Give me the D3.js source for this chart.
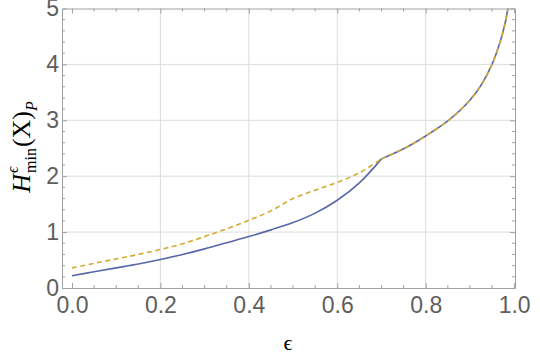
<!DOCTYPE html>
<html>
<head>
<meta charset="utf-8">
<script src="https://cdn.jsdelivr.net/npm/d3@7"></script>
<style>
  body { margin: 0; background: #fff; }
  svg { display: block; }
</style>
</head>
<body>
<svg id="chart" width="540" height="357"></svg>
<script>
'use strict';

// values
let epsLow = [0, 0.05, 0.1, 0.15, 0.2, 0.25, 0.3, 0.35, 0.4, 0.45, 0.5, 0.55, 0.6, 0.65, 0.7];
let hSolidLow = [0.22, 0.29, 0.36, 0.43, 0.51, 0.6, 0.7, 0.81, 0.92, 1.04, 1.17, 1.34, 1.57, 1.88, 2.31];
let hDashedLow = [0.36, 0.44, 0.52, 0.6, 0.69, 0.79, 0.92, 1.06, 1.21, 1.38, 1.6, 1.75, 1.89, 2.06, 2.31];

let epsHigh = [0.7, 0.75, 0.8, 0.85, 0.9, 0.927, 0.95, 0.969, 0.98, 0.986, 0.99];
let hHigh = [2.31, 2.49, 2.72, 2.99, 3.36, 3.65, 4.0, 4.42, 4.75, 5.0, 5.2];

let xTicks = [0, 0.2, 0.4, 0.6, 0.8, 1.0];
let yTicks = [0, 1, 2, 3, 4, 5];

function getChartConfig() {
    let margin = { top: 8.5, right: 25, bottom: 69, left: 62 },
        width = 540 - margin.left - margin.right,
        height = 357 - margin.top - margin.bottom;
    let svg = d3.select("#chart");
    let container = svg.append("g")
        .attr("transform", "translate(" + margin.left + "," + margin.top + ")");
    return { width, height, container, margin, svg };
}

function getScales(config) {
    let { width, height } = config;
    let xScale = d3.scaleLinear().domain([-0.0226, 1.002]).range([0, width]);
    let yScale = d3.scaleLinear().domain([0, 5]).range([height, 0]);
    return { xScale, yScale };
}

function drawGrid(config, scales) {
    let { container, width, height } = config;
    let { xScale, yScale } = scales;

    xTicks.slice(1, -1).forEach(t => {
        container.append("line")
            .style("stroke", "#dcdcdc")
            .attr("x1", xScale(t)).attr("x2", xScale(t))
            .attr("y1", 0).attr("y2", height);
    });
    yTicks.slice(1, -1).forEach(t => {
        container.append("line")
            .style("stroke", "#dcdcdc")
            .attr("x1", 0).attr("x2", width)
            .attr("y1", yScale(t)).attr("y2", yScale(t));
    });
}

function drawAxes(config, scales) {
    let { container, width, height } = config;
    let { xScale, yScale } = scales;

    let xMinor = d3.range(0, 1.0001, 0.05).filter(d => Math.abs(d * 5 - Math.round(d * 5)) > 1e-6);
    let yMinor = d3.range(0, 5.0001, 0.2).filter(d => Math.abs(d - Math.round(d)) > 1e-6);

    let bottom = d3.axisBottom(xScale).tickValues(xTicks).tickSizeInner(-5).tickSizeOuter(0)
        .tickFormat(d3.format(".1f"));
    let top = d3.axisTop(xScale).tickValues(xTicks).tickSizeInner(-5).tickSizeOuter(0).tickFormat("");
    let left = d3.axisLeft(yScale).tickValues(yTicks).tickSizeInner(-5).tickSizeOuter(0)
        .tickPadding(3).tickFormat(d3.format("d"));
    let right = d3.axisRight(yScale).tickValues(yTicks).tickSizeInner(-5).tickSizeOuter(0).tickFormat("");

    let gx = container.append("g").attr("class", "x axis")
        .attr("transform", "translate(0," + height + ")").call(bottom);
    gx.selectAll(".tick text").attr("y", 25).attr("dy", 0);
    container.append("g").attr("class", "x axis").call(top);
    container.append("g").attr("class", "y axis").call(left);
    container.append("g").attr("class", "y axis")
        .attr("transform", "translate(" + width + ",0)").call(right);

    // minor ticks
    xMinor.forEach(t => {
        container.append("line").attr("class", "minor")
            .attr("x1", xScale(t)).attr("x2", xScale(t))
            .attr("y1", height).attr("y2", height - 3);
        container.append("line").attr("class", "minor")
            .attr("x1", xScale(t)).attr("x2", xScale(t))
            .attr("y1", 0).attr("y2", 3);
    });
    yMinor.forEach(t => {
        container.append("line").attr("class", "minor")
            .attr("x1", 0).attr("x2", 3)
            .attr("y1", yScale(t)).attr("y2", yScale(t));
        container.append("line").attr("class", "minor")
            .attr("x1", width).attr("x2", width - 3)
            .attr("y1", yScale(t)).attr("y2", yScale(t));
    });

    container.selectAll(".axis path.domain").style("stroke", "#a0a0a0");
    container.selectAll(".axis .tick line").style("stroke", "#a0a0a0");
    container.selectAll("line.minor").style("stroke", "#a0a0a0");
    container.selectAll(".axis .tick text")
        .style("font-family", "Liberation Sans, Arial, sans-serif")
        .style("font-size", "23px")
        .style("fill", "#5e5e5e");
}

function drawLines(config, scales) {
    let { container, width, height } = config;
    let { xScale, yScale } = scales;

    container.append("clipPath").attr("id", "plotClip")
        .append("rect").attr("x", 0).attr("y", 0).attr("width", width).attr("height", height);

    let line = d3.line()
        .x(d => xScale(d[0]))
        .y(d => yScale(d[1]))
        .curve(d3.curveCatmullRom.alpha(0.5));

    let solid = epsLow.map((e, i) => [e, hSolidLow[i]]);
    let dashed = epsLow.map((e, i) => [e, hDashedLow[i]]);
    let shared = epsHigh.map((e, i) => [e, hHigh[i]]);

    let plot = container.append("g").attr("clip-path", "url(#plotClip)");
    [solid, shared].forEach(pts => {
        plot.append("path").datum(pts)
            .attr("d", line)
            .attr("fill", "none")
            .attr("stroke", "#5867a8")
            .attr("stroke-width", 1.6);
    });
    [dashed, shared].forEach(pts => {
        plot.append("path").datum(pts)
            .attr("d", line)
            .attr("fill", "none")
            .attr("stroke", "#d2aa32")
            .attr("stroke-width", 1.6)
            .attr("stroke-dasharray", "5,3.5");
    });
}

function drawLabels(config) {
    let { svg } = config;
    let serif = "Liberation Serif, Times New Roman, serif";

    svg.append("text")
        .attr("x", 288).attr("y", 350)
        .style("font-family", serif)
        .style("font-size", "22px")
        .style("text-anchor", "middle")
        .text("\u03F5");

    // y label built piece by piece, then centered
    let g = svg.append("g").attr("transform", "translate(30,147) rotate(-90)");
    let inner = g.append("g");
    let x = 0;
    let piece = (str, size, italic, dy) => {
        let t = inner.append("text")
            .attr("x", x).attr("y", dy)
            .style("font-family", serif)
            .style("font-size", size + "px")
            .style("font-style", italic ? "italic" : "normal")
            .text(str);
        return t.node().getComputedTextLength();
    };
    x += piece("H", 26, true, 0) + 1;
    let supW = piece("\u03F5", 16, true, -12);
    let subW = piece("min", 16, false, 6);
    x += Math.max(supW, subW) + 1;
    x += piece("(X)", 26, false, 0);
    x += piece("P", 16, true, 7);
    inner.attr("transform", "translate(" + (-x / 2) + ",0)");
}

function drawChart() {
    let config = getChartConfig();
    let scales = getScales(config);
    drawGrid(config, scales);
    drawLines(config, scales);
    drawAxes(config, scales);
    drawLabels(config);
}

drawChart();
</script>
</body>
</html>
